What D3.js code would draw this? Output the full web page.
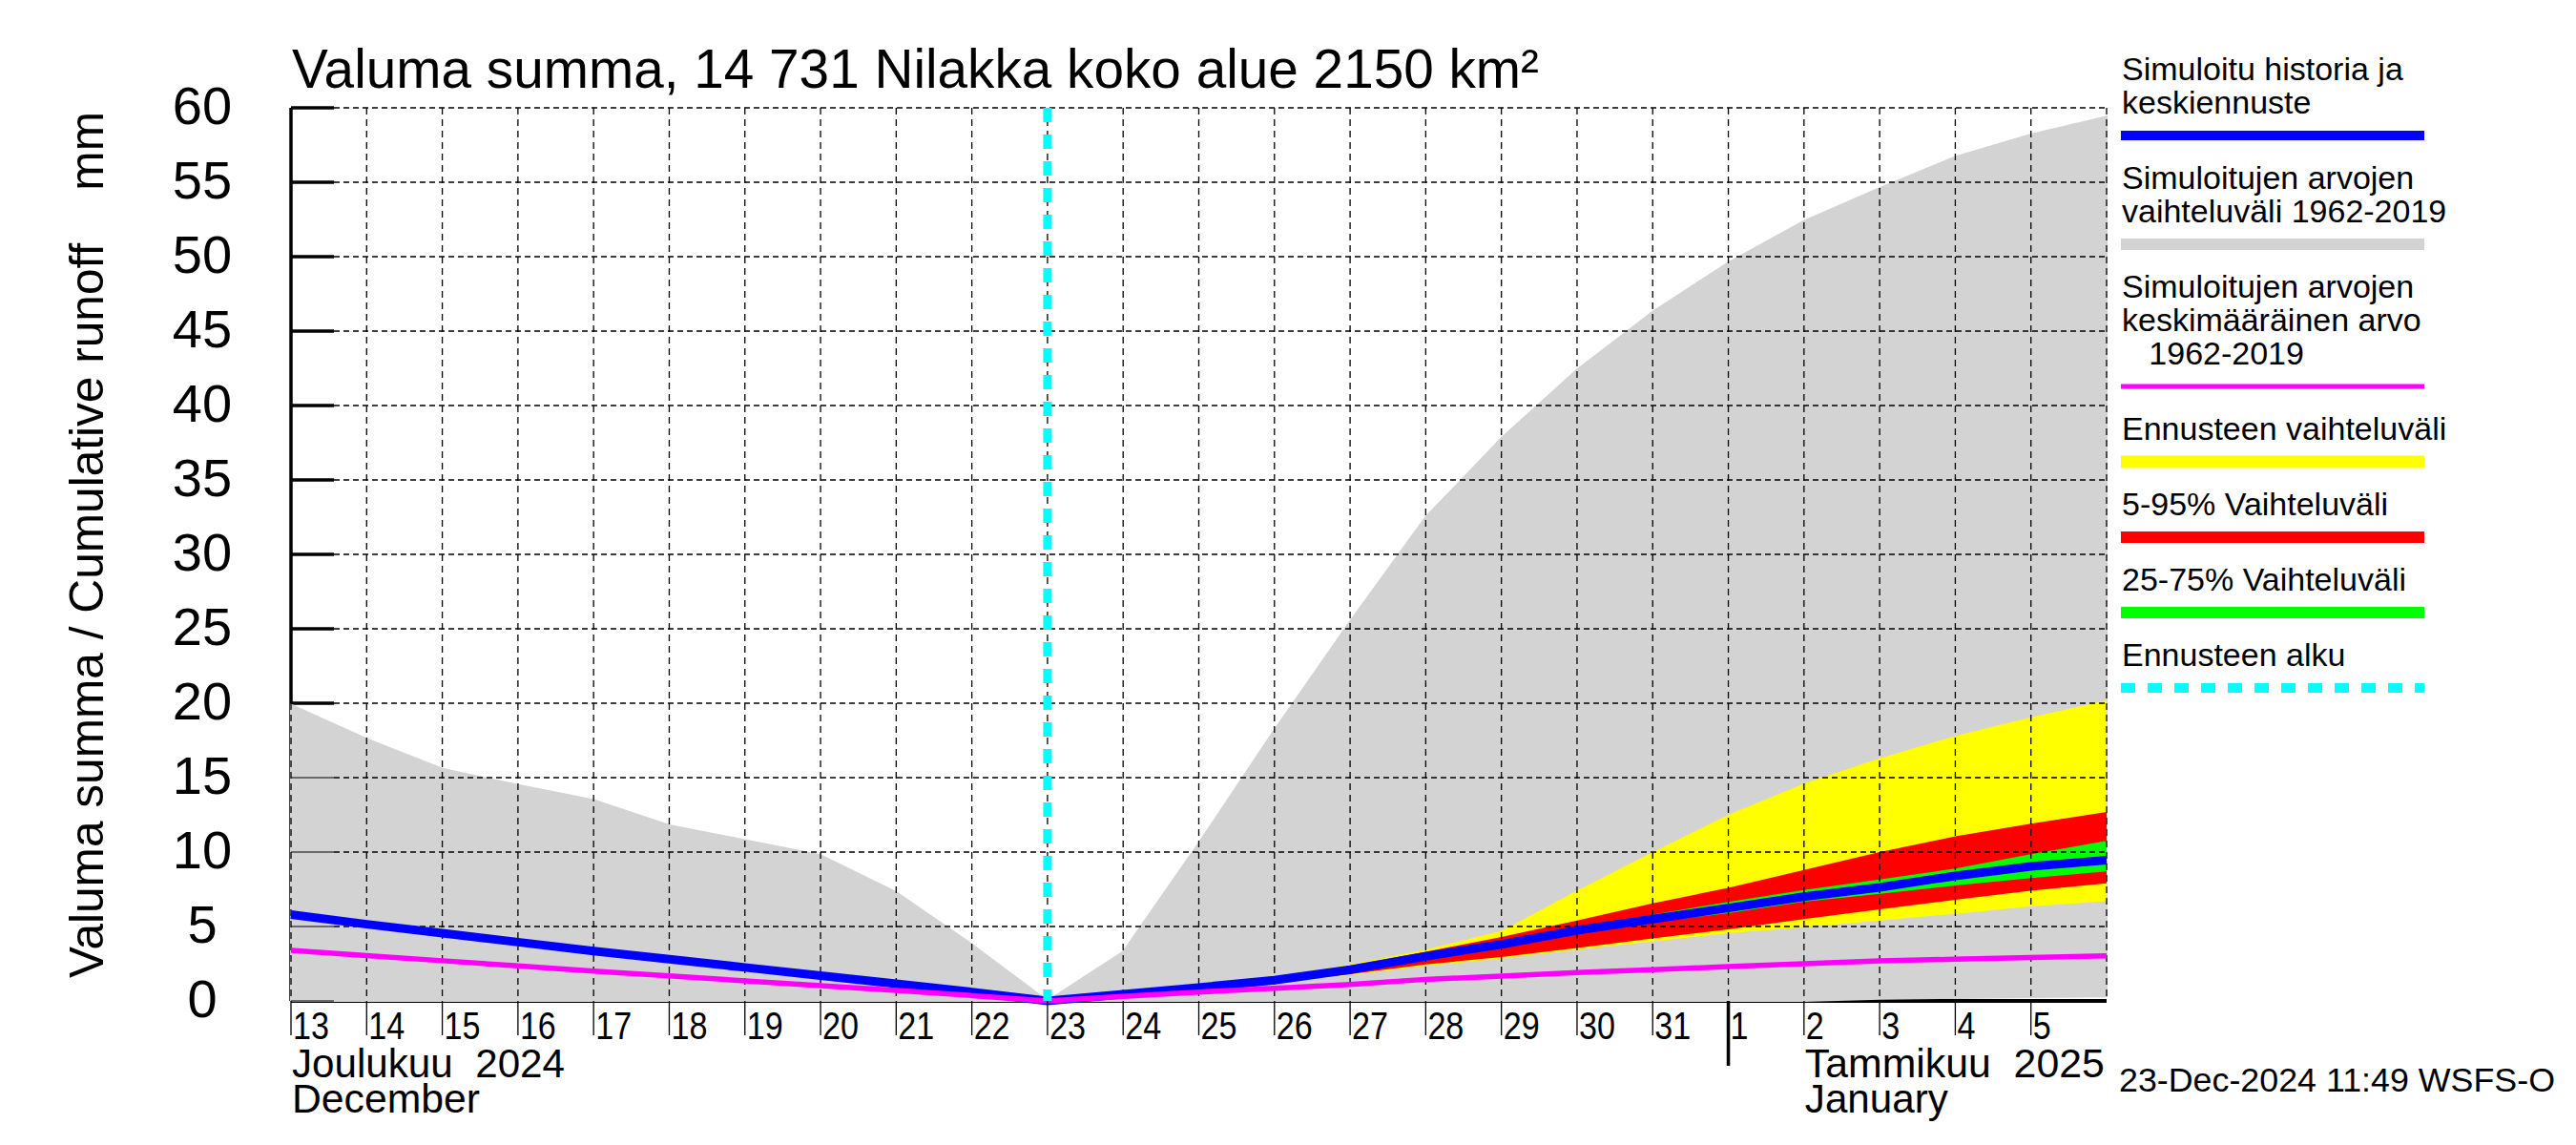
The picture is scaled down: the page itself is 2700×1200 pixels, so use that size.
<!DOCTYPE html>
<html>
<head>
<meta charset="utf-8">
<script src="https://cdn.jsdelivr.net/npm/d3@7/dist/d3.min.js"></script>
<style>
body { margin: 0; background: #fff; }
svg text { font-family: "Liberation Sans", Arial, Helvetica, sans-serif; fill: #000; white-space: pre; }
</style>
</head>
<body>
<div id="chart"></div>
<script>
// daily points, 00:00 of each day
var days = ["2024-12-13","2024-12-14","2024-12-15","2024-12-16","2024-12-17","2024-12-18",
	"2024-12-19","2024-12-20","2024-12-21","2024-12-22","2024-12-23","2024-12-24","2024-12-25",
	"2024-12-26","2024-12-27","2024-12-28","2024-12-29","2024-12-30","2024-12-31","2025-01-01",
	"2025-01-02","2025-01-03","2025-01-04","2025-01-05","2025-01-06"];

// simulated range 1962-2019 (grey)
var simMax = [19.9, 17.6, 15.6, 14.5, 13.5, 11.8, 10.8, 9.8, 7.3, 3.8, 0,
	3.3, 10.6, 18.2, 25.5, 32.5, 37.8, 42.4, 46.3, 49.6, 52.4, 54.6, 56.7, 58.2, 59.4];
var simMin = [0, 0, 0, 0, 0, 0, 0, 0, 0, 0, 0,
	0, 0, 0, 0, 0, 0, 0, 0, 0, 0, 0.15, 0.2, 0.25, 0.3];
// mean of simulated values 1962-2019 (magenta)
var simMean = [3.4, 3.05, 2.7, 2.35, 2.0, 1.68, 1.35, 1.02, 0.7, 0.36, 0,
	0.3, 0.6, 0.85, 1.1, 1.45, 1.66, 1.9, 2.1, 2.3, 2.5, 2.7, 2.8, 2.92, 3.03];
// simulated history and median forecast (blue)
var histMedian = [5.8, 5.15, 4.55, 3.95, 3.35, 2.8, 2.25, 1.7, 1.15, 0.6, 0,
	0.45, 0.9, 1.4, 2.1, 3.0, 3.8, 4.74, 5.5, 6.24, 7.0, 7.63, 8.4, 9.04, 9.45];

// forecast bands, from 2024-12-23 on
var fcDays = days.slice(10);
var fcMax = [0, 0.5, 1.0, 1.6, 2.45, 3.45, 4.7, 7.4, 10.0, 12.5, 14.6, 16.3, 17.8, 19.05, 20.2];
var fc95  = [0, 0.48, 0.97, 1.55, 2.35, 3.3, 4.3, 5.4, 6.55, 7.6, 8.8, 10.0, 11.05, 11.9, 12.7];
var fc75  = [0, 0.46, 0.93, 1.45, 2.15, 3.05, 3.9, 4.85, 5.8, 6.65, 7.45, 8.15, 8.9, 9.85, 10.75];
var fc25  = [0, 0.44, 0.87, 1.35, 2.05, 2.95, 3.7, 4.6, 5.28, 5.9, 6.67, 7.2, 7.75, 8.25, 8.7];
var fc5   = [0, 0.42, 0.83, 1.25, 1.8, 2.45, 2.95, 3.55, 4.2, 4.8, 5.5, 6.15, 6.8, 7.4, 7.9];
var fcMin = [0, 0.4, 0.8, 1.2, 1.75, 2.35, 2.85, 3.45, 4.0, 4.55, 4.95, 5.4, 5.85, 6.35, 6.7];

var forecastStart = "2024-12-23";
var yTicks = [0, 5, 10, 15, 20, 25, 30, 35, 40, 45, 50, 55, 60];
var monthFi = ["Joulukuu  2024", "Tammikuu  2025"];
var monthEn = ["December", "January"];
var monthAt = ["2024-12-13", "2025-01-02"];
var monthStart = "2025-01-01";

var titleText = "Valuma summa, 14 731 Nilakka koko alue 2150 km\u00b2";
var yLabel = "Valuma summa / Cumulative runoff    mm";
var stamp = "23-Dec-2024 11:49 WSFS-O";

var legendItems = [
	{lines: ["Simuloitu historia ja", "keskiennuste"], color: "#0000ff", w: 10},
	{lines: ["Simuloitujen arvojen", "vaihteluv\u00e4li 1962-2019"], color: "#d3d3d3", w: 12},
	{lines: ["Simuloitujen arvojen", "keskim\u00e4\u00e4r\u00e4inen arvo", "   1962-2019"], color: "#ff00ff", w: 5},
	{lines: ["Ennusteen vaihteluv\u00e4li"], color: "#ffff00", w: 13},
	{lines: ["5-95% Vaihteluv\u00e4li"], color: "#ff0000", w: 12},
	{lines: ["25-75% Vaihteluv\u00e4li"], color: "#00ff00", w: 12},
	{lines: ["Ennusteen alku"], color: "#00ffff", w: 10, dash: "15,13"}
];

var W = 2700, H = 1200;
var margin = {top: 113, right: 492, bottom: 151, left: 305};
var parse = d3.utcParse("%Y-%m-%d");

var x = d3.scaleUtc()
	.domain([parse(days[0]), parse(days[days.length - 1])])
	.range([margin.left, W - margin.right]);
var y = d3.scaleLinear()
	.domain([0, 60])
	.range([H - margin.bottom, margin.top]);

var x0 = x.range()[0], x1 = x.range()[1];
var yb = y(0), yt = y(60);

var svg = d3.select("#chart").append("svg")
	.attr("width", W)
	.attr("height", H)
	.style("display", "block");

var rows = days.map(function(d, i) {
	return {date: parse(d), max: simMax[i], min: simMin[i], mean: simMean[i], med: histMedian[i]};
});
var fcRows = fcDays.map(function(d, i) {
	return {date: parse(d), max: fcMax[i], p95: fc95[i], p75: fc75[i], p25: fc25[i], p5: fc5[i], min: fcMin[i]};
});

// axis lines and thick ticks, later partly covered by the grey band
svg.append("line").attr("x1", x0).attr("x2", x1).attr("y1", yb).attr("y2", yb)
	.attr("stroke", "#000").attr("stroke-width", 4);
svg.append("line").attr("x1", x0).attr("x2", x0).attr("y1", yt).attr("y2", yb)
	.attr("stroke", "#000").attr("stroke-width", 3.5);
svg.selectAll(".ytick").data(yTicks).enter().append("line")
	.attr("class", "ytick")
	.attr("x1", x0).attr("x2", x0 + 45)
	.attr("y1", function(d) { return y(d); }).attr("y2", function(d) { return y(d); })
	.attr("stroke", "#000").attr("stroke-width", 3.5);

// grey historical range
var band = function(lo, hi) {
	return d3.area()
		.x(function(d) { return x(d.date); })
		.y0(function(d) { return y(d[lo]); })
		.y1(function(d) { return y(d[hi]); });
};
svg.append("path").datum(rows)
	.attr("d", band("min", "max"))
	.attr("fill", "#d3d3d3")
	.attr("stroke", "#d3d3d3").attr("stroke-width", 2);

// thin ticks over the grey
svg.selectAll(".ytick2").data(yTicks).enter().append("line")
	.attr("x1", x0).attr("x2", x0 + 45)
	.attr("y1", function(d) { return y(d); }).attr("y2", function(d) { return y(d); })
	.attr("stroke", "#000").attr("stroke-width", 1.2);

// forecast bands
svg.append("path").datum(fcRows).attr("d", band("min", "max")).attr("fill", "#ffff00");
svg.append("path").datum(fcRows).attr("d", band("p5", "p95")).attr("fill", "#ff0000");
svg.append("path").datum(fcRows).attr("d", band("p25", "p75")).attr("fill", "#00ff00");

// grid
var gridDays = d3.utcDay.range(x.domain()[0], d3.utcDay.offset(x.domain()[1], 1));
svg.append("g").selectAll("line").data(gridDays).enter().append("line")
	.attr("x1", function(d) { return x(d); }).attr("x2", function(d) { return x(d); })
	.attr("y1", yt).attr("y2", yb)
	.attr("stroke", "#000").attr("stroke-width", 1.3).attr("stroke-dasharray", "7,5");
svg.append("g").selectAll("line").data(yTicks.slice(1)).enter().append("line")
	.attr("x1", x0 + 45).attr("x2", x1)
	.attr("y1", function(d) { return y(d); }).attr("y2", function(d) { return y(d); })
	.attr("stroke", "#000").attr("stroke-width", 1.3).attr("stroke-dasharray", "6,4");

// lines
var line = function(key) {
	return d3.line()
		.x(function(d) { return x(d.date); })
		.y(function(d) { return y(d[key]); });
};
svg.append("path").datum(rows).attr("d", line("med"))
	.attr("fill", "none").attr("stroke", "#0000ff").attr("stroke-width", 9);
svg.append("path").datum(rows).attr("d", line("mean"))
	.attr("fill", "none").attr("stroke", "#ff00ff").attr("stroke-width", 5.5);

// forecast start
svg.append("line")
	.attr("x1", x(parse(forecastStart))).attr("x2", x(parse(forecastStart)))
	.attr("y1", yt).attr("y2", yb)
	.attr("stroke", "#00ffff").attr("stroke-width", 9).attr("stroke-dasharray", "15,13");

// y tick labels
svg.selectAll(".ylab").data(yTicks).enter().append("text")
	.attr("x", 212)
	.attr("y", function(d) { return y(d) + 17; })
	.attr("text-anchor", "middle")
	.style("font-size", "56px")
	.text(function(d) { return d; });

// x ticks and day labels
var labelDays = gridDays.slice(0, gridDays.length - 1);
svg.selectAll(".xtick").data(labelDays).enter().append("line")
	.attr("x1", function(d) { return x(d); }).attr("x2", function(d) { return x(d); })
	.attr("y1", yb).attr("y2", yb + 36)
	.attr("stroke", "#000").attr("stroke-width", 1.3);
var dayFmt = d3.utcFormat("%-d");
svg.selectAll(".xlab").data(labelDays).enter().append("text")
	.attr("x", function(d) { return x(d) + 2; })
	.attr("y", yb + 40)
	.style("font-size", "40px")
	.attr("textLength", function(d) { return dayFmt(d).length * 19; })
	.attr("lengthAdjust", "spacingAndGlyphs")
	.text(function(d) { return dayFmt(d); });

svg.append("line")
	.attr("x1", x(parse(monthStart))).attr("x2", x(parse(monthStart)))
	.attr("y1", yb).attr("y2", yb + 68)
	.attr("stroke", "#000").attr("stroke-width", 3.5);

var fiLen = [286, 314], enLen = [197, 150];
monthAt.forEach(function(d, i) {
	svg.append("text").attr("x", x(parse(d)) + 1).attr("y", yb + 80)
		.style("font-size", "42px")
		.attr("textLength", fiLen[i]).attr("lengthAdjust", "spacingAndGlyphs")
		.text(monthFi[i]);
	svg.append("text").attr("x", x(parse(d)) + 1).attr("y", yb + 117)
		.style("font-size", "42px")
		.attr("textLength", enLen[i]).attr("lengthAdjust", "spacingAndGlyphs")
		.text(monthEn[i]);
});

// title, axis title, stamp
svg.append("text").attr("x", 306).attr("y", 92)
	.style("font-size", "58px")
	.attr("textLength", 1307).attr("lengthAdjust", "spacingAndGlyphs")
	.text(titleText);

svg.append("text")
	.attr("transform", "translate(108," + ((117 + 1025) / 2) + ") rotate(-90)")
	.attr("text-anchor", "middle")
	.style("font-size", "50px")
	.attr("textLength", 908).attr("lengthAdjust", "spacingAndGlyphs")
	.text(yLabel);

svg.append("text").attr("x", 2221).attr("y", 1144)
	.style("font-size", "35px")
	.attr("textLength", 457).attr("lengthAdjust", "spacingAndGlyphs")
	.text(stamp);

// legend
var lgX = 2223, lgW = 318;
var lgY = 84;
legendItems.forEach(function(it) {
	it.lines.forEach(function(t, j) {
		svg.append("text").attr("x", lgX + 1).attr("y", lgY + j * 35)
			.style("font-size", "34px").text(t);
	});
	var ly = lgY + (it.lines.length - 1) * 35 + 23;
	var ln = svg.append("line").attr("x1", lgX).attr("x2", lgX + lgW)
		.attr("y1", ly).attr("y2", ly)
		.attr("stroke", it.color).attr("stroke-width", it.w);
	if (it.dash) ln.attr("stroke-dasharray", it.dash);
	lgY = ly + 56;
});
</script>
</body>
</html>
